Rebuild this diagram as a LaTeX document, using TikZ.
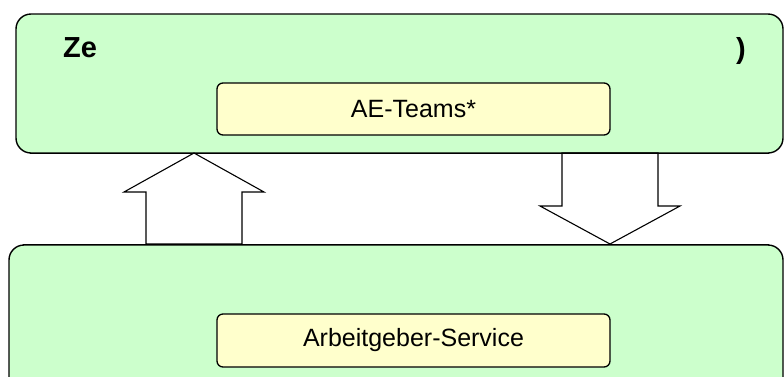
\documentclass[tikz,border=0pt]{standalone}
\usepackage{fontspec}
\setmainfont{Liberation Sans}
\definecolor{boxgreen}{HTML}{CCFFCC}
\definecolor{boxyellow}{HTML}{FFFFCC}
\begin{document}
\begin{tikzpicture}[x=1pt,y=-1pt,
  outerbox/.style={draw=black,line width=1.4pt,fill=boxgreen,rounded corners=15pt,inner sep=0pt},
  innerbox/.style={draw=black,line width=1.3pt,fill=boxyellow,rounded corners=6pt,inner sep=0pt,
     minimum width=393pt,font=\fontsize{25}{30}\selectfont},
  blockarrow/.style={draw=black,line width=1.1pt,fill=white,line join=miter},
  headtext/.style={font=\fontsize{29}{34}\selectfont\bfseries,inner sep=0pt}]
\useasboundingbox (0,0) rectangle (784,376);
\clip (0,0) rectangle (784,376);
\node[outerbox,minimum width=767pt,minimum height=139pt] (top) at (399.5,83.5) {};
\node[outerbox,minimum width=774pt,minimum height=160pt] (bottom) at (396,325) {};
\node[innerbox,minimum height=52pt] (ae) at (413.5,109) {AE-Teams*};
\node[innerbox,minimum height=53pt] (ag) at (413.5,340.5) {Arbeitgeber-Service};
\node[headtext,anchor=base west] (ze) at (63,57.5) {Ze};
\node[headtext,anchor=base west] (par) at (736,58) {)};
\draw[blockarrow] (146,244) -- (146,192) -- (124,192) -- (194,153) -- (264,192) -- (242,192) -- (242,244) -- cycle;
\draw[blockarrow] (562,153) -- (562,206) -- (540,206) -- (610,244) -- (680,206) -- (658,206) -- (658,153) -- cycle;
\draw[line width=1.4pt] (top.south west) ++(15,0) -- ([xshift=-15pt]top.south east);
\draw[line width=1.4pt] (bottom.north west) ++(15,0) -- ([xshift=-15pt]bottom.north east);
\end{tikzpicture}
\end{document}
